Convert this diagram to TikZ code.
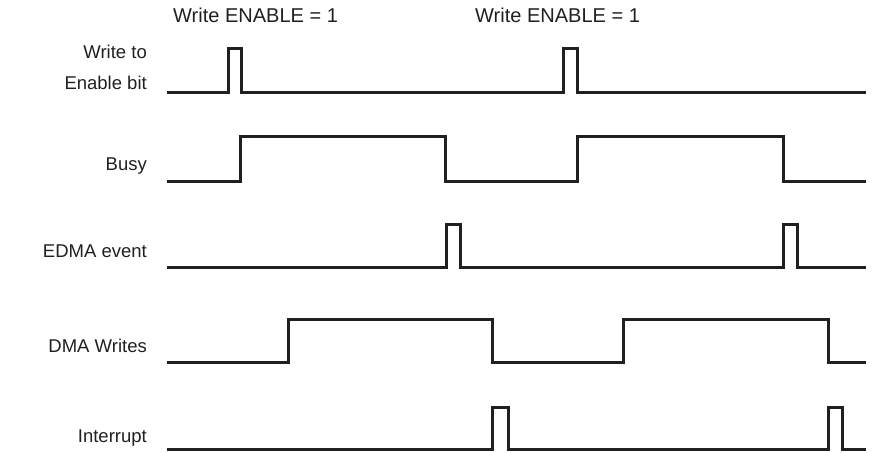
\documentclass[tikz,border=0pt]{standalone}
\usepackage{fontspec}
\setmainfont{Liberation Sans}
\definecolor{ink}{HTML}{231F20}
\begin{document}
\begin{tikzpicture}[x=1pt,y=-1pt,
  sig/.style={draw=ink,line width=3pt,line join=miter,line cap=butt},
  lbl/.style={anchor=base east,inner sep=0pt,font=\fontsize{18.5}{22}\selectfont,text=ink},
  toplbl/.style={anchor=base west,inner sep=0pt,font=\fontsize{20}{24}\selectfont,text=ink}]
\useasboundingbox (0,0) rectangle (877,452);
% labels
\node[toplbl] (en1) at (173,23) {Write ENABLE = 1};
\node[toplbl] (en2) at (475,23) {Write ENABLE = 1};
\node[lbl] (l1a) at (147,59) {Write to};
\node[lbl] (l1b) at (147,89) {Enable bit};
\node[lbl] (l2) at (147,170) {Busy};
\node[lbl] (l3) at (147,257) {EDMA event};
\node[lbl] (l4) at (147,352) {DMA Writes};
\node[lbl] (l5) at (147,442) {Interrupt};
% Write to Enable bit
\draw[sig] (167,92) -- (228,92) -- (228,49) -- (241,49) -- (241,92)
  -- (563,92) -- (563,49) -- (577,49) -- (577,92) -- (866,92);
% Busy
\draw[sig] (167,181) -- (240,181) -- (240,136) -- (445,136) -- (445,181)
  -- (577,181) -- (577,136) -- (783,136) -- (783,181) -- (866,181);
% EDMA event
\draw[sig] (167,267) -- (446,267) -- (446,224) -- (460,224) -- (460,267)
  -- (783,267) -- (783,224) -- (797,224) -- (797,267) -- (866,267);
% DMA Writes
\draw[sig] (167,362) -- (288,362) -- (288,319) -- (492,319) -- (492,362)
  -- (623,362) -- (623,319) -- (828,319) -- (828,362) -- (866,362);
% Interrupt
\draw[sig] (167,449) -- (492,449) -- (492,407) -- (508,407) -- (508,449)
  -- (828,449) -- (828,407) -- (842,407) -- (842,449) -- (866,449);
\end{tikzpicture}
\end{document}
